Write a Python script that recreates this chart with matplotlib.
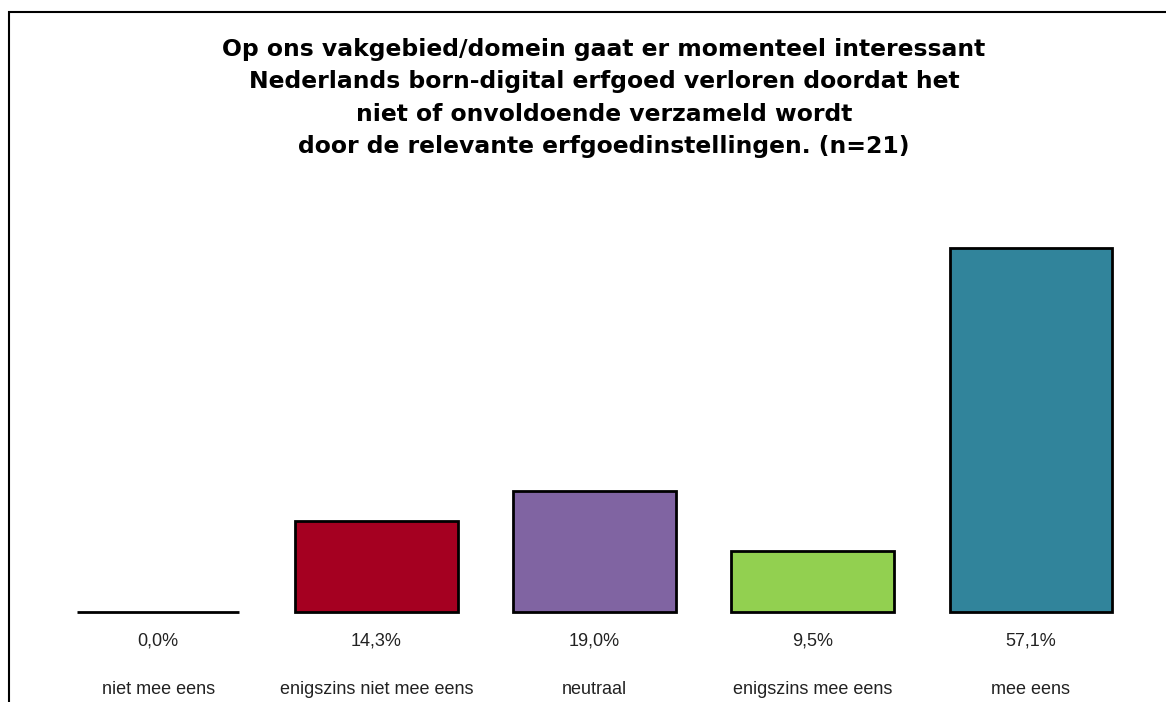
import matplotlib.pyplot as plt
from matplotlib.patches import Rectangle

categories = ["niet mee eens", "enigszins niet mee eens", "neutraal",
              "enigszins mee eens", "mee eens"]
values = [0.0, 14.3, 19.0, 9.5, 57.1]
colors = ["#FFFFFF", "#A50021", "#8064A2", "#92D050", "#31849B"]

title = ("Op ons vakgebied/domein gaat er momenteel interessant\n"
         "Nederlands born-digital erfgoed verloren doordat het\n"
         "niet of onvoldoende verzameld wordt\n"
         "door de relevante erfgoedinstellingen. (n=21)")

fig = plt.figure(figsize=(11.66, 7.02), dpi=100)
ax = fig.add_axes([49 / 1166, 1 - 612 / 702, (1140 - 49) / 1166, 383 / 702])

x = range(len(values))
bars = ax.bar(x, values, width=0.745, color=colors, edgecolor="black",
              linewidth=2)
for b in bars:
    b.set_clip_on(False)
ax.set_xlim(-0.5, len(values) - 0.5)
ax.set_ylim(0, 60)
ax.axis("off")

for i, v in enumerate(values):
    ax.annotate(f"{v:.1f}%".replace(".", ","), xy=(i, 0), xytext=(0, -29),
                textcoords="offset pixels", ha="center", va="center",
                fontsize=13, family="Liberation Sans", color="#222222")
    ax.annotate(categories[i], xy=(i, 0), xytext=(0, -78),
                textcoords="offset pixels", ha="center", va="center",
                fontsize=13, family="Liberation Sans", color="#222222")

fig.text(604 / 1166, 1 - 98 / 702, title, ha="center", va="center",
         fontsize=16.9, fontweight="bold", family="DejaVu Sans",
         linespacing=1.51)

# border around the chart, running off the right and bottom edge
fig.patches.append(Rectangle((9 / 1166, -0.1), 1.2, 1 - 12 / 702 + 0.1,
                             transform=fig.transFigure, fill=False,
                             edgecolor="black", linewidth=1.5))

plt.savefig("out.png", dpi=100)
